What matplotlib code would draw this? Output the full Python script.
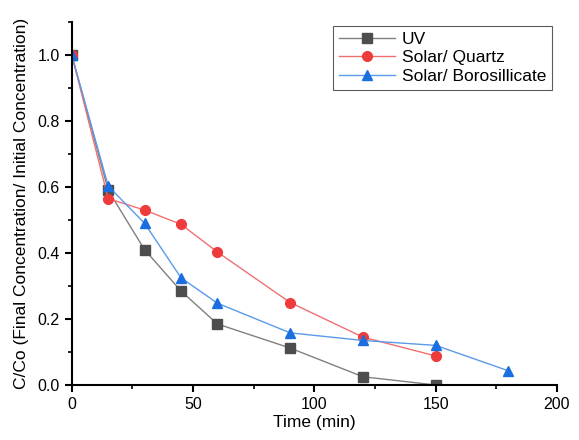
import matplotlib
matplotlib.use("Agg")
import matplotlib.pyplot as plt
from matplotlib.ticker import MultipleLocator

plt.rcParams['font.family'] = ['Liberation Sans', 'DejaVu Sans']

t_uv = [0, 15, 30, 45, 60, 90, 120, 150]
uv = [1.0, 0.59, 0.41, 0.285, 0.185, 0.112, 0.025, 0.0]
t_q = [0, 15, 30, 45, 60, 90, 120, 150]
quartz = [1.0, 0.565, 0.53, 0.487, 0.403, 0.25, 0.145, 0.088]
t_b = [0, 15, 30, 45, 60, 90, 120, 150, 180]
boro = [1.0, 0.603, 0.49, 0.325, 0.248, 0.158, 0.135, 0.12, 0.043]

fig = plt.figure(figsize=(5.79, 4.40), dpi=100)
ax = fig.add_axes([0.124, 0.125, 0.838, 0.825])

ax.plot(t_uv, uv, color='#808080', lw=1, marker='s', ms=6.5,
        mfc='#4d4d4d', mec='#4d4d4d', label='UV')
ax.plot(t_q, quartz, color='#f07070', lw=1, marker='o', ms=7,
        mfc='#ee3b3b', mec='#ee3b3b', label='Solar/ Quartz')
ax.plot(t_b, boro, color='#5a9ae8', lw=1, marker='^', ms=7.5,
        mfc='#1a6ee0', mec='#1a6ee0', label='Solar/ Borosillicate')

ax.set_xlim(0, 200)
ax.set_ylim(0, 1.1)
ax.xaxis.set_major_locator(MultipleLocator(50))
ax.xaxis.set_minor_locator(MultipleLocator(25))
ax.yaxis.set_major_locator(MultipleLocator(0.2))
ax.yaxis.set_minor_locator(MultipleLocator(0.1))
ax.yaxis.set_major_formatter(matplotlib.ticker.FormatStrFormatter('%.1f'))
for s in ['top', 'right']:
    ax.spines[s].set_visible(False)
for s in ['left', 'bottom']:
    ax.spines[s].set_linewidth(1.5)
ax.tick_params(which='major', direction='out', length=5, width=1.5, labelsize=11.5)
ax.tick_params(which='minor', direction='out', length=3, width=1.2)

ax.set_xlabel('Time (min)', fontsize=12.5, labelpad=2)
ax.set_ylabel('C/Co (Final Concentration/ Initial Concentration)', fontsize=12.5, labelpad=6)

leg = ax.legend(loc='upper right', bbox_to_anchor=(0.99, 0.99), borderaxespad=0,
                fontsize=12.5, frameon=True, fancybox=False, edgecolor='#333333',
                handlelength=3.2, borderpad=0.35, labelspacing=0.2, handletextpad=0.4)
leg.get_frame().set_linewidth(0.8)

fig.savefig('out.png', dpi=100)
